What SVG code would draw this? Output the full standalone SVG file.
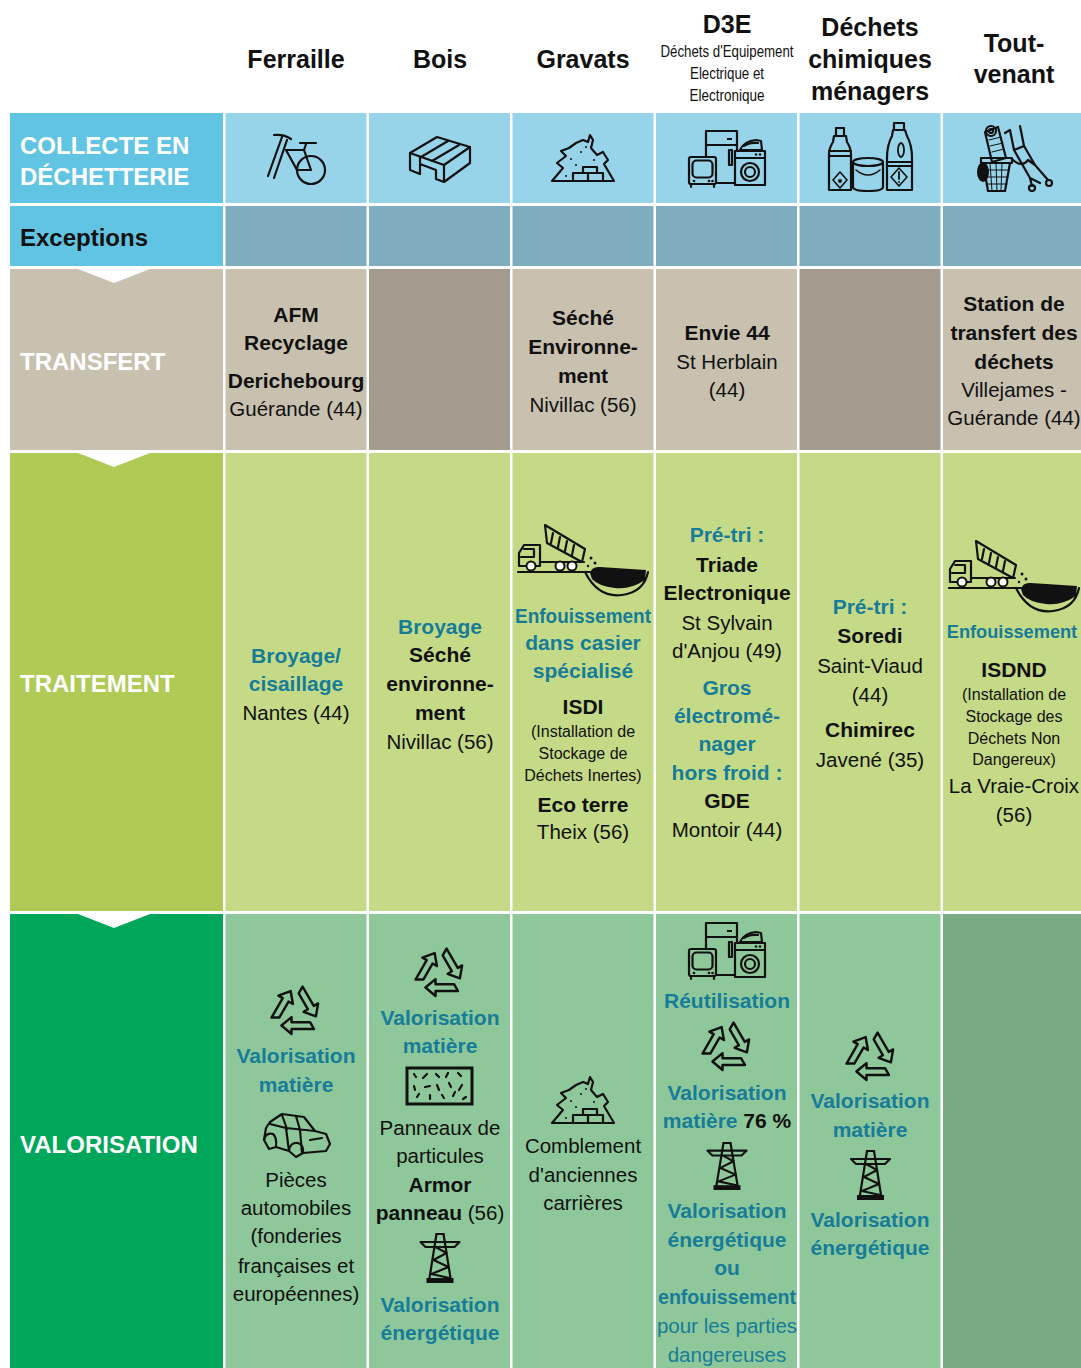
<svg xmlns="http://www.w3.org/2000/svg" xmlns:xlink="http://www.w3.org/1999/xlink" width="1081" height="1368" viewBox="0 0 1081 1368">
<style>
text{font-family:"Liberation Sans",Arial,sans-serif;text-anchor:middle}
.h{font-size:25px;font-weight:bold;fill:#111}
.sub{font-size:16px;fill:#111}
.lab{font-size:24px;font-weight:bold;fill:#fff;text-anchor:start}
.labk{font-size:24px;font-weight:bold;fill:#111;text-anchor:start}
.b{font-size:21px;font-weight:bold;fill:#111}
.r{font-size:20.5px;fill:#111}
.t{font-size:21px;font-weight:bold;fill:#177C98}
.tr{font-size:20.5px;fill:#177C98}
.s{font-size:16px;fill:#111}
.ln{fill:none;stroke:#111;stroke-width:2.2;stroke-linejoin:round;stroke-linecap:round}
.c-col{fill:#98D4E9}.c-exc{fill:#7FADC0}.c-tr{fill:#C9C1B0}.c-trg{fill:#A39B8E}
.c-tt{fill:#C5DA86}.c-va{fill:#8EC89A}.c-vad{fill:#7AAA84}
</style>
<defs>
<g id="recy" class="ln" stroke-width="1.8">
<path id="ra" d="M12.5 10 L-4 10 L-4 5.5 L-13 13 L-4 20.5 L-4 16 L16 16 Z"/>
<use xlink:href="#ra" transform="rotate(120)"/>
<use xlink:href="#ra" transform="rotate(-120)"/>
</g>
<g id="pyl" class="ln">
<path d="M17 1 L24 1 M1 9 L40 9 L35 14 L6 14 Z"/>
<path d="M17 1 L10 45 M24 1 L31 45"/>
<path d="M16 14 L27 20 L14 27 L29 34 L12 41 L30 45"/>
<rect x="7" y="45" width="27" height="5" fill="#111" stroke="none"/>
</g>
<g id="truck">
<g class="ln" stroke-width="2">
<path d="M518 572 L590 572"/>
<path d="M519 566 L519 553 L524 545 L540 545 L540 566 Z"/>
<path d="M524 549 L534 549 L534 557 L521 557"/>
<path d="M540 562 L584 562"/>
<path d="M545 525 L585 549 L582 562 L547 543 Z"/>
<path d="M553 533 L551 543 M560 537 L558 547 M567 541 L565 551 M574 545 L572 555"/>
<path d="M585 572 Q598 598 622 595 Q644 592 648 572"/>
</g>
<circle cx="531" cy="566" r="4.5" fill="#fff" stroke="#111" stroke-width="2"/>
<circle cx="560" cy="566" r="4.5" fill="#fff" stroke="#111" stroke-width="2"/>
<circle cx="572" cy="566" r="4.5" fill="#fff" stroke="#111" stroke-width="2"/>
<path d="M590 573 Q592 566 600 567 L646 570 L645 580 Q630 590 615 588 Q598 586 592 579 Z" fill="#111"/>
<circle cx="591" cy="558" r="1.5" fill="#111"/><circle cx="595" cy="563" r="1.5" fill="#111"/><circle cx="588" cy="566" r="1.2" fill="#111"/>
</g>
<g id="appl">
<path class="ln" d="M706 157 L706 131 L737 131 L737 151 M706 145 L737 145 M716 183 L735 183"/>
<rect x="729" y="150" width="3" height="15" class="ln" stroke-width="1.5"/>
<rect x="727" y="138" width="5" height="2" fill="#111"/>
<rect x="689" y="157" width="27" height="27" rx="2" fill="currentColor" class="ln"/>
<rect x="692.5" y="160.5" width="20" height="17" rx="4" class="ln" stroke-width="1.8"/>
<circle cx="694" cy="181" r="1.3" fill="#111"/><circle cx="709" cy="181" r="1.3" fill="#111"/><circle cx="712.5" cy="181" r="1.3" fill="#111"/>
<path class="ln" d="M691 184 L691 187 M714 184 L714 187"/>
<rect x="735" y="151" width="30" height="34" fill="currentColor" class="ln"/>
<path class="ln" d="M735 158 L765 158"/>
<circle cx="756" cy="154.5" r="1.3" fill="#111"/><circle cx="760" cy="154.5" r="1.3" fill="#111"/>
<circle cx="750" cy="172" r="9" class="ln"/><circle cx="750" cy="172" r="5" class="ln" stroke-width="1.6"/>
<path d="M740 150 Q744 141 756 140 L761 141 L762 150 Z" fill="currentColor" class="ln" stroke-width="2"/>
<path d="M744 146 Q749 142 758 143" class="ln" stroke-width="1.2"/>
</g>
<g id="rubble">
<path class="ln" stroke-width="2.5" d="M552 181 L563 168 L557 163 L566 156 L561 151 L569 148 L576 143 L583 140 L588 142 L590 135 L593 140 L591 148 L597 155 L603 152 L608 160 L604 164 L614 181 Z"/>
<path class="ln" d="M573 173 L603 173 L603 181 M588 173 L588 181 M573 173 L573 181 M583 173 L583 167 L597 167 L597 173"/>
<circle cx="571" cy="159" r="1" fill="#111"/><circle cx="581" cy="152" r="1" fill="#111"/><circle cx="586" cy="147" r="1" fill="#111"/><circle cx="566" cy="176" r="1" fill="#111"/><circle cx="594" cy="160" r="1" fill="#111"/><circle cx="576" cy="165" r="1" fill="#111"/>
</g>
</defs>

<rect width="1081" height="1368" fill="#fff"/>

<!-- headers -->
<g id="header-ferraille"><text class="h" x="296" y="68">Ferraille</text></g>
<g id="header-bois"><text class="h" x="440" y="68">Bois</text></g>
<g id="header-gravats"><text class="h" x="583" y="68">Gravats</text></g>
<g id="header-d3e">
<text class="h" x="727" y="33">D3E</text>
<text class="sub" x="727" y="57" textLength="133" lengthAdjust="spacingAndGlyphs">Déchets d'Equipement</text>
<text class="sub" x="727" y="79" textLength="74" lengthAdjust="spacingAndGlyphs">Electrique et</text>
<text class="sub" x="727" y="101" textLength="75" lengthAdjust="spacingAndGlyphs">Electronique</text>
</g>
<g id="header-chimiques">
<text class="h" x="870" y="36">Déchets</text>
<text class="h" x="870" y="68">chimiques</text>
<text class="h" x="870" y="100">ménagers</text>
</g>
<g id="header-toutvenant">
<text class="h" x="1014" y="52">Tout-</text>
<text class="h" x="1014" y="83">venant</text>
</g>

<!-- row labels -->
<g id="row-collecte">
<rect x="10" y="113" width="213" height="90" fill="#62C4E3"/>
<text class="lab" x="20" y="154">COLLECTE EN</text>
<text class="lab" x="20" y="185">DÉCHETTERIE</text>
</g>
<g id="row-exceptions">
<rect x="10" y="206" width="213" height="60" fill="#62C4E3"/>
<text class="labk" x="20" y="246">Exceptions</text>
</g>
<g id="row-transfert">
<rect x="10" y="269" width="213" height="181" fill="#C9C1B0"/>
<text class="lab" x="20" y="370">TRANSFERT</text>
</g>
<g id="row-traitement">
<rect x="10" y="453" width="213" height="458" fill="#AFCA55"/>
<text class="lab" x="20" y="692">TRAITEMENT</text>
</g>
<g id="row-valorisation">
<rect x="10" y="914" width="213" height="454" fill="#00A65A"/>
<text class="lab" x="20" y="1153">VALORISATION</text>
</g>

<!-- collecte cells -->
<g id="collecte-ferraille">
<rect class="c-col" x="225.5" y="113" width="141" height="90"/>
<g class="ln">
<circle cx="311" cy="170" r="14"/>
<path d="M274 135 Q284 134 291 139 M282 137 L268 176 M287 140 L274 178 M286 150 L304 150 L311 170 L297 170 Z M304 150 L306 144 M300 143 L316 143"/>
</g>
</g>
<g id="collecte-bois">
<rect class="c-col" x="369" y="113" width="141" height="90"/>
<g class="ln">
<path d="M410 153 L437 137 L470 147 L444 165 Z"/>
<path d="M421 157 L448 141 M432 161 L459 145"/>
<path d="M410 153 L410 170 L420 174 L420 164 L436 170 L436 179 L444 182 L470 163 L470 147 M444 165 L444 182 M420 164 L420 157"/>
</g>
</g>
<g id="collecte-gravats">
<rect class="c-col" x="512.5" y="113" width="141" height="90"/>
<use xlink:href="#rubble"/>
</g>
<g id="collecte-d3e">
<rect class="c-col" x="656" y="113" width="141" height="90"/>
<use xlink:href="#appl" color="#98D4E9"/>
</g>
<g id="collecte-chimiques">
<rect class="c-col" x="799.5" y="113" width="141" height="90"/>
<g class="ln" stroke-width="2.5">
<rect x="836" y="128" width="8" height="8"/>
<path d="M834 136 L846 136 L847 142 Q851 148 851 155 L851 190 L829 190 L829 155 Q829 148 833 142 Z"/>
<path d="M829 151 L851 151 M829 156 L851 156"/>
<path d="M840 172 L847 180 L840 188 L833 180 Z" stroke-width="1.6"/>
<path d="M853 163 L853 187 Q853 191 868 191 Q883 191 883 187 L883 163"/>
<ellipse cx="868" cy="162" rx="15" ry="4"/>
<path d="M856 170 Q868 180 880 170" stroke-width="1.6"/>
<rect x="894" y="123" width="10" height="7"/>
<path d="M893 130 L905 130 L907 136 Q912 145 912 158 L912 190 L887 190 L887 158 Q887 145 892 136 Z"/>
<ellipse cx="901" cy="150" rx="3" ry="7" stroke-width="1.8"/>
<path d="M887 162 L912 162 M887 166 L912 166"/>
<path d="M899 168 L907 177 L899 186 L891 177 Z" stroke-width="1.6"/>
<path d="M899 172 L899 179" stroke-width="1.8"/>
</g>
<circle cx="840" cy="181" r="2" fill="#111"/><circle cx="899" cy="182" r="1" fill="#111"/>
</g>
<g id="collecte-toutvenant">
<rect class="c-col" x="943" y="113" width="138" height="90"/>
<ellipse cx="983" cy="172" rx="6" ry="10" fill="#111"/>
<g class="ln" stroke-width="1.8">
<path d="M985 132 L998 127 L1006 158 L992 162 Z"/>
<circle cx="991" cy="131" r="5"/><circle cx="991" cy="131" r="2"/>
<path d="M989 140 L1001 137 M990 146 L1003 143 M992 152 L1004 149" stroke-width="1"/>
<path d="M981 158 L1012 158 L1012 163 L981 163 Z"/>
<path d="M983 163 L988 191 L1005 191 L1010 163"/>
<path d="M990 163 L992 191 M996 163 L997 191 M1002 163 L1001 191 M984 170 L1009 170 M985 177 L1008 177 M987 184 L1007 184" stroke-width="1"/>
<path d="M1005 133 L1010 130 L1014 150 L1030 178 L1040 183 M1020 126 L1024 146 L1035 165 L1048 180 M1014 150 L1024 146 M1013 160 Q1022 168 1028 160 L1035 165 M1030 178 L1032 186"/>
<circle cx="1032" cy="188" r="3"/><circle cx="1049" cy="183" r="3"/>
</g>
</g>

<!-- exceptions cells -->
<g id="exceptions-cells">
<rect class="c-exc" x="225.5" y="206" width="141" height="60"/>
<rect class="c-exc" x="369" y="206" width="141" height="60"/>
<rect class="c-exc" x="512.5" y="206" width="141" height="60"/>
<rect class="c-exc" x="656" y="206" width="141" height="60"/>
<rect class="c-exc" x="799.5" y="206" width="141" height="60"/>
<rect class="c-exc" x="943" y="206" width="138" height="60"/>
</g>

<!-- transfert cells -->
<g id="transfert-ferraille">
<rect class="c-tr" x="225.5" y="269" width="141" height="181"/>
<text class="b" x="296" y="322">AFM</text>
<text class="b" x="296" y="350">Recyclage</text>
<text class="b" x="296" y="388">Derichebourg</text>
<text class="r" x="296" y="416">Guérande (44)</text>
</g>
<g id="transfert-bois"><rect class="c-trg" x="369" y="269" width="141" height="181"/></g>
<g id="transfert-gravats">
<rect class="c-tr" x="512.5" y="269" width="141" height="181"/>
<text class="b" x="583" y="325">Séché</text>
<text class="b" x="583" y="354">Environne-</text>
<text class="b" x="583" y="383">ment</text>
<text class="r" x="583" y="412">Nivillac (56)</text>
</g>
<g id="transfert-d3e">
<rect class="c-tr" x="656" y="269" width="141" height="181"/>
<text class="b" x="727" y="340">Envie 44</text>
<text class="r" x="727" y="369">St Herblain</text>
<text class="r" x="727" y="397">(44)</text>
</g>
<g id="transfert-chimiques"><rect class="c-trg" x="799.5" y="269" width="141" height="181"/></g>
<g id="transfert-toutvenant">
<rect class="c-tr" x="943" y="269" width="138" height="181"/>
<text class="b" x="1014" y="311">Station de</text>
<text class="b" x="1014" y="340">transfert des</text>
<text class="b" x="1014" y="369">déchets</text>
<text class="r" x="1014" y="397">Villejames -</text>
<text class="r" x="1014" y="425">Guérande (44)</text>
</g>

<!-- traitement cells -->
<g id="traitement-ferraille">
<rect class="c-tt" x="225.5" y="453" width="141" height="458"/>
<text class="t" x="296" y="663">Broyage/</text>
<text class="t" x="296" y="691">cisaillage</text>
<text class="r" x="296" y="720">Nantes (44)</text>
</g>
<g id="traitement-bois">
<rect class="c-tt" x="369" y="453" width="141" height="458"/>
<text class="t" x="440" y="634">Broyage</text>
<text class="b" x="440" y="662">Séché</text>
<text class="b" x="440" y="691">environne-</text>
<text class="b" x="440" y="720">ment</text>
<text class="r" x="440" y="749">Nivillac (56)</text>
</g>
<g id="traitement-gravats">
<rect class="c-tt" x="512.5" y="453" width="141" height="458"/>
<use xlink:href="#truck"/>
<text class="t" x="583" y="623" textLength="136" lengthAdjust="spacingAndGlyphs">Enfouissement</text>
<text class="t" x="583" y="650">dans casier</text>
<text class="t" x="583" y="678">spécialisé</text>
<text class="b" x="583" y="714">ISDI</text>
<text class="s" x="583" y="737">(Installation de</text>
<text class="s" x="583" y="759">Stockage de</text>
<text class="s" x="583" y="781">Déchets Inertes)</text>
<text class="b" x="583" y="812">Eco terre</text>
<text class="r" x="583" y="839">Theix (56)</text>
</g>
<g id="traitement-d3e">
<rect class="c-tt" x="656" y="453" width="141" height="458"/>
<text class="t" x="727" y="542">Pré-tri :</text>
<text class="b" x="727" y="572">Triade</text>
<text class="b" x="727" y="600">Electronique</text>
<text class="r" x="727" y="630">St Sylvain</text>
<text class="r" x="727" y="658">d'Anjou (49)</text>
<text class="t" x="727" y="695">Gros</text>
<text class="t" x="727" y="723">électromé-</text>
<text class="t" x="727" y="751">nager</text>
<text class="t" x="727" y="780">hors froid :</text>
<text class="b" x="727" y="808">GDE</text>
<text class="r" x="727" y="837">Montoir (44)</text>
</g>
<g id="traitement-chimiques">
<rect class="c-tt" x="799.5" y="453" width="141" height="458"/>
<text class="t" x="870" y="614">Pré-tri :</text>
<text class="b" x="870" y="643">Soredi</text>
<text class="r" x="870" y="673">Saint-Viaud</text>
<text class="r" x="870" y="702">(44)</text>
<text class="b" x="870" y="737">Chimirec</text>
<text class="r" x="870" y="767">Javené (35)</text>
</g>
<g id="traitement-toutvenant">
<rect class="c-tt" x="943" y="453" width="138" height="458"/>
<use xlink:href="#truck" transform="translate(431,16)"/>
<text class="t" x="1012" y="638" style="font-size:18.2px">Enfouissement</text>
<text class="b" x="1014" y="677">ISDND</text>
<text class="s" x="1014" y="700">(Installation de</text>
<text class="s" x="1014" y="722">Stockage des</text>
<text class="s" x="1014" y="744">Déchets Non</text>
<text class="s" x="1014" y="765">Dangereux)</text>
<text class="r" x="1014" y="793">La Vraie-Croix</text>
<text class="r" x="1014" y="822">(56)</text>
</g>

<!-- valorisation cells -->
<g id="valorisation-ferraille">
<rect class="c-va" x="225.5" y="914" width="141" height="454"/>
<use xlink:href="#recy" transform="translate(296,1011) scale(1.12)"/>
<text class="t" x="296" y="1063">Valorisation</text>
<text class="t" x="296" y="1092">matière</text>
<g class="ln" stroke-width="2">
<path d="M264 1140 L266 1128 L270 1122 L282 1114 L304 1117 L315 1131 L326 1134 L330 1144 L326 1151 L303 1153 L296 1157 L289 1151 L276 1147 L269 1149 L264 1140 Z"/>
<path d="M270 1124 L286 1128 L315 1131 M282 1115 L287 1129 M296 1116 L300 1130 M286 1128 L289 1151 M300 1130 L302 1153"/>
<path d="M289 1151 Q290 1142 298 1143 Q304 1145 303 1153 M264 1140 Q266 1132 273 1134 Q277 1137 276 1147"/>
<path d="M310 1140 L322 1138"/>
</g>
<text class="r" x="296" y="1187">Pièces</text>
<text class="r" x="296" y="1215">automobiles</text>
<text class="r" x="296" y="1243">(fonderies</text>
<text class="r" x="296" y="1273">françaises et</text>
<text class="r" x="296" y="1301">européennes)</text>
</g>
<g id="valorisation-bois">
<rect class="c-va" x="369" y="914" width="141" height="454"/>
<use xlink:href="#recy" transform="translate(440,973) scale(1.12)"/>
<text class="t" x="440" y="1025">Valorisation</text>
<text class="t" x="440" y="1053">matière</text>
<rect x="407" y="1068" width="65" height="36" fill="none" stroke="#111" stroke-width="3"/>
<path class="ln" stroke-width="1.8" d="M414 1074 L416 1077 M423 1078 L427 1074 M436 1074 L439 1077 M448 1073 L446 1077 M458 1073 L461 1076 M414 1086 L415 1090 M425 1087 L430 1086 M437 1085 L439 1090 M449 1083 L451 1087 M462 1085 L459 1090 M417 1097 L419 1094 M430 1095 L430 1099 M442 1095 L444 1098 M455 1092 L453 1096 M466 1097 L463 1099"/>
<text class="r" x="440" y="1135">Panneaux de</text>
<text class="r" x="440" y="1163">particules</text>
<text class="b" x="440" y="1192">Armor</text>
<text x="440" y="1220"><tspan class="b">panneau</tspan><tspan class="r"> (56)</tspan></text>
<use xlink:href="#pyl" transform="translate(419.5,1233)"/>
<text class="t" x="440" y="1312">Valorisation</text>
<text class="t" x="440" y="1340">énergétique</text>
</g>
<g id="valorisation-gravats">
<rect class="c-va" x="512.5" y="914" width="141" height="454"/>
<use xlink:href="#rubble" transform="translate(0,942)"/>
<text class="r" x="583" y="1153">Comblement</text>
<text class="r" x="583" y="1182">d'anciennes</text>
<text class="r" x="583" y="1210">carrières</text>
</g>
<g id="valorisation-d3e">
<rect class="c-va" x="656" y="914" width="141" height="454"/>
<use xlink:href="#appl" transform="translate(0,792)" color="#8EC89A"/>
<text class="t" x="727" y="1008">Réutilisation</text>
<use xlink:href="#recy" transform="translate(727,1047) scale(1.12)"/>
<text class="t" x="727" y="1100">Valorisation</text>
<text x="727" y="1128"><tspan class="t">matière </tspan><tspan class="b">76 %</tspan></text>
<use xlink:href="#pyl" transform="translate(706.5,1142) scale(1,0.96)"/>
<text class="t" x="727" y="1218">Valorisation</text>
<text class="t" x="727" y="1247">énergétique</text>
<text class="t" x="727" y="1275">ou</text>
<text class="t" x="727" y="1304" textLength="138" lengthAdjust="spacingAndGlyphs">enfouissement</text>
<text class="tr" x="727" y="1333">pour les parties</text>
<text class="tr" x="727" y="1362">dangereuses</text>
</g>
<g id="valorisation-chimiques">
<rect class="c-va" x="799.5" y="914" width="141" height="454"/>
<use xlink:href="#recy" transform="translate(871,1057) scale(1.12)"/>
<text class="t" x="870" y="1108">Valorisation</text>
<text class="t" x="870" y="1137">matière</text>
<use xlink:href="#pyl" transform="translate(850,1150)"/>
<text class="t" x="870" y="1227">Valorisation</text>
<text class="t" x="870" y="1255">énergétique</text>
</g>
<g id="valorisation-toutvenant"><rect class="c-vad" x="943" y="914" width="138" height="454"/></g>

<!-- flow notches -->
<g id="connectors" fill="#fff">
<polygon points="78,269 150,269 114,283"/>
<polygon points="78,453 150,453 114,467"/>
<polygon points="78,914 150,914 114,928"/>
</g>
</svg>
